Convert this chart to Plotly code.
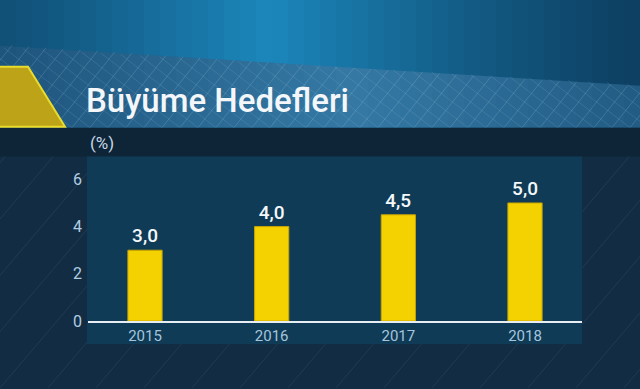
import plotly.graph_objects as go

# ---- data ----
years = ["2015", "2016", "2017", "2018"]
targets = [3.0, 4.0, 4.5, 5.0]
y_ticks = [0, 2, 4, 6]
title_text = "Büyüme Hedefleri"
unit_text = "(%)"

W, H = 640, 389
K = 0.977  # vertical compensation observed in the rendered picture


def px(x):
    return x / W


def py(y):
    return 1 - (y / K) / H


def hexmix(c1, c2, t):
    a = [int(c1[i:i + 2], 16) for i in (1, 3, 5)]
    b = [int(c2[i:i + 2], 16) for i in (1, 3, 5)]
    return "#%02x%02x%02x" % tuple(round(a[k] + (b[k] - a[k]) * t) for k in range(3))


shapes = []

# base background
shapes.append(dict(type="rect", xref="paper", yref="paper", x0=0, x1=1, y0=-0.1, y1=1,
                   fillcolor="#122c43", line_width=0, layer="below"))

# top band with horizontal gradient (dark edges, bright centre)
N = 40
for i in range(N):
    x0 = W * i / N
    x1 = W * (i + 1) / N
    c = (i + 0.5) / N
    t = max(0.0, 1 - abs(c - 0.42) / 0.58)
    col = hexmix("#0d3f62", "#1c87bc", t ** 1.2)
    shapes.append(dict(type="rect", xref="paper", yref="paper", x0=px(x0), x1=px(x1) + 0.002,
                       y0=py(130), y1=1, fillcolor=col, line_width=0, layer="below"))


# middle slanted band
def band_top(x):
    return 46 + (86 - 46) * x / W


for i in range(N):
    x0 = W * i / N
    x1 = W * (i + 1) / N
    c = (i + 0.5) / N
    t = max(0.0, 1 - abs(c - 0.55) / 0.6)
    col = hexmix("#1c5179", "#3479a4", t)
    path = "M {} {} L {} {} L {} {} L {} {} Z".format(
        px(x0), py(band_top(x0)), px(x1) + 0.002, py(band_top(x1)),
        px(x1) + 0.002, py(128), px(x0), py(128))
    shapes.append(dict(type="path", xref="paper", yref="paper", path=path,
                       fillcolor=col, line_width=0, layer="below"))

# crosshatch in the middle band
for k in range(-10, 50):
    xb = k * 18
    yt = band_top(xb + 0.8 * 60)
    xt = xb + 0.8 * (128 - yt)
    shapes.append(dict(type="line", xref="paper", yref="paper",
                       x0=px(xb), y0=py(128), x1=px(xt), y1=py(yt),
                       line=dict(color="rgba(190,225,245,0.18)", width=1), layer="below"))
    yt2 = band_top(xb - 1.3 * 60)
    xt2 = xb - 1.3 * (128 - yt2)
    shapes.append(dict(type="line", xref="paper", yref="paper",
                       x0=px(xb), y0=py(128), x1=px(xt2), y1=py(yt2),
                       line=dict(color="rgba(190,225,245,0.12)", width=1), layer="below"))

# dark strip under the band
shapes.append(dict(type="rect", xref="paper", yref="paper", x0=0, x1=1,
                   y0=py(157), y1=py(128), fillcolor="#0e2437", line_width=0, layer="below"))

# lower background diagonal lines
for k in range(-6, 20):
    xb = k * 48
    shapes.append(dict(type="line", xref="paper", yref="paper",
                       x0=px(xb), y0=py(389), x1=px(xb + 0.85 * (389 - 157)), y1=py(157),
                       line=dict(color="rgba(160,200,230,0.10)", width=1), layer="below"))

# chart panel
shapes.append(dict(type="rect", xref="paper", yref="paper", x0=px(87), x1=px(582),
                   y0=py(345), y1=py(157), fillcolor="#0f3b56", line_width=0, layer="below"))

# yellow tab on the left
shapes.append(dict(type="path", xref="paper", yref="paper",
                   path="M {} {} L {} {} L {} {} L {} {} Z".format(
                       px(-2), py(67), px(28), py(67), px(65), py(127), px(-2), py(127)),
                   fillcolor="#bda317", line=dict(color="#e9dc2c", width=2), layer="below"))

fig = go.Figure()
fig.add_trace(go.Bar(
    x=years, y=targets,
    width=0.27,
    marker=dict(color="#f4d100", line=dict(color="#c9a500", width=1)),
    texttemplate="%{y:.1f}",
    textposition="outside",
    cliponaxis=False,
    textfont=dict(family="Roboto", size=19, color="#f4f8fb", weight=500),
    hoverinfo="skip",
))

fig.update_layout(
    width=W, height=H,
    margin=dict(l=0, r=0, t=0, b=0),
    paper_bgcolor="#122c43",
    plot_bgcolor="rgba(0,0,0,0)",
    separators=",.",
    showlegend=False,
    shapes=shapes,
    xaxis=dict(
        domain=[px(88), px(582)],
        range=[-0.45, 3.45],
        type="category",
        showgrid=False, zeroline=False,
        showline=True, linecolor="#e6eef3", linewidth=2,
        ticks="", tickfont=dict(family="Roboto", size=15, color="#a5c5dd"),
        fixedrange=True,
    ),
    yaxis=dict(
        domain=[py(322), py(168)],
        range=[0, 6.5],
        tickvals=y_ticks,
        showgrid=False, zeroline=False, showline=False,
        ticks="", ticklabelstandoff=5,
        tickfont=dict(family="Roboto", size=16, color="#b0cde2"),
        fixedrange=True,
    ),
    annotations=[
        dict(text=title_text, xref="paper", yref="paper", x=px(84), y=py(101),
             xanchor="left", yanchor="middle", showarrow=False,
             font=dict(family="Roboto", size=33, color="#f4f7fa", weight=500)),
        dict(text=unit_text, xref="paper", yref="paper", x=px(88), y=py(143),
             xanchor="left", yanchor="middle", showarrow=False,
             font=dict(family="Roboto", size=17, color="#c5d7e6")),
    ],
)

fig.write_html("out.html")
